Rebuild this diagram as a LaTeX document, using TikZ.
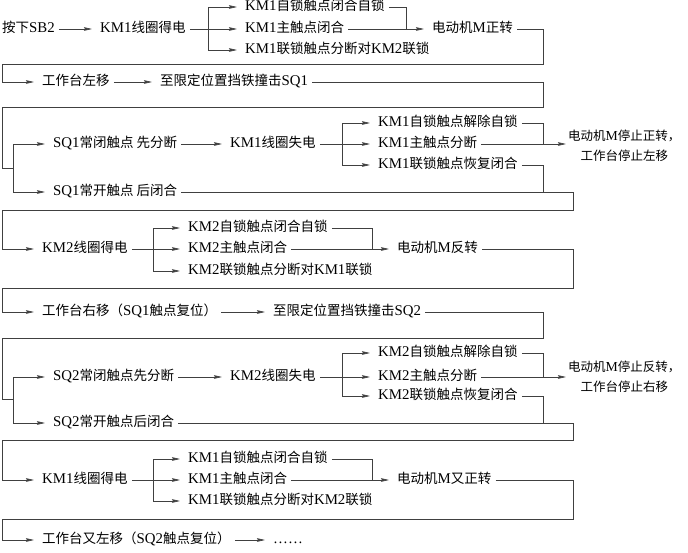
\documentclass[tikz,border=0pt]{standalone}
\usepackage{fontspec}
\setmainfont{Noto Sans CJK SC}
\newfontfamily\latinfont{Liberation Serif}[Scale=1.1]
\newcommand\en[1]{{\latinfont #1}}
\usepackage{tikz}
\usetikzlibrary{arrows.meta}
\tikzset{
  flow/.style={
    anchor=west, xshift=-4pt, inner xsep=4pt, inner ysep=1pt,
    text height=10pt, text depth=2.5pt,
    font=\fontsize{13.5}{16}\selectfont
  },
  result/.style={
    anchor=west, inner xsep=2pt, align=center,
    font=\fontsize{12.5}{20}\selectfont
  },
  wire/.style={draw=black!75, line width=0.7pt},
  arrow/.style={wire, -{Stealth[length=8pt,width=3.6pt,inset=1pt]}, shorten >=4pt}
}
\begin{document}
\begin{tikzpicture}[x=1pt, y=-1pt]
  \useasboundingbox (0,0) rectangle (688,552);

  % press SB2, forward run
  \node[flow] (sb2) at (2,29) {按下\en{SB2}};
  \node[flow] (km1on) at (100,29) {\en{KM1}线圈得电};
  \node[flow] (km1self) at (245,7) {\en{KM1}自锁触点闭合自锁};
  \node[flow] (km1main) at (245,29) {\en{KM1}主触点闭合};
  \node[flow] (km1lock) at (245,50) {\en{KM1}联锁触点分断对\en{KM2}联锁};
  \node[flow] (fwd) at (432,29) {电动机\en{M}正转};
  \coordinate (s1) at (208,29);
  \coordinate (j1) at (406,29);
  \coordinate (r1) at (543,64);
  \coordinate (l1) at (2,64);

  \draw[arrow] (sb2) -- (km1on);
  \draw[arrow] (km1on) -- (km1main);
  \draw[arrow] (s1) |- (km1self.west);
  \draw[arrow] (s1) |- (km1lock.west);
  \draw[wire] (km1self.east) -| (j1);
  \draw[arrow] (km1main) -- (fwd);

  \node[flow] (left1) at (42,82) {工作台左移};
  \node[flow] (hitsq1) at (160,82) {至限定位置挡铁撞击\en{SQ1}};
  \coordinate (r2) at (543,107);
  \coordinate (l2) at (2,107);
  \coordinate (s2) at (13,168);

  \draw[arrow] (fwd.east) -| (r1) -- (l1) |- (left1.west);
  \draw[arrow] (left1) -- (hitsq1);
  \draw[wire] (hitsq1.east) -| (r2) -- (l2) |- (s2);

  % SQ1 hit, stop
  \node[flow] (sq1nc) at (53,144) {\en{SQ1}常闭触点 先分断};
  \node[flow] (sq1no) at (53,192) {\en{SQ1}常开触点 后闭合};
  \node[flow] (km1off) at (230,144) {\en{KM1}线圈失电};
  \node[flow] (km1unself) at (378,123) {\en{KM1}自锁触点解除自锁};
  \node[flow] (km1open) at (378,144) {\en{KM1}主触点分断};
  \node[flow] (km1unlock) at (378,165) {\en{KM1}联锁触点恢复闭合};
  \node[result] (stop1) at (566,146) {电动机\en{M}停止正转，\\工作台停止左移};
  \coordinate (s3) at (342,144);
  \coordinate (j3a) at (543,144);
  \coordinate (j3b) at (543,192);
  \coordinate (r3) at (573,210);
  \coordinate (l3) at (2,210);

  \draw[arrow] (s2) |- (sq1nc.west);
  \draw[arrow] (s2) |- (sq1no.west);
  \draw[arrow] (sq1nc) -- (km1off);
  \draw[arrow] (km1off) -- (km1open);
  \draw[arrow] (s3) |- (km1unself.west);
  \draw[arrow] (s3) |- (km1unlock.west);
  \draw[wire] (km1unself.east) -| (j3a);
  \draw[arrow, shorten >=0pt] (km1open.east) -- (km1open.east -| stop1.west);
  \draw[wire] (km1unlock.east) -| (j3b);

  % reverse run
  \node[flow] (km2on) at (42,249) {\en{KM2}线圈得电};
  \node[flow] (km2self) at (188,228) {\en{KM2}自锁触点闭合自锁};
  \node[flow] (km2main) at (188,249) {\en{KM2}主触点闭合};
  \node[flow] (km2lock) at (188,271) {\en{KM2}联锁触点分断对\en{KM1}联锁};
  \node[flow] (rev) at (397,249) {电动机\en{M}反转};
  \coordinate (s4) at (153,249);
  \coordinate (j4) at (372,249);
  \coordinate (r4) at (573,288);
  \coordinate (l4) at (2,288);

  \draw[arrow] (sq1no.east) -| (r3) -- (l3) |- (km2on.west);
  \draw[arrow] (km2on) -- (km2main);
  \draw[arrow] (s4) |- (km2self.west);
  \draw[arrow] (s4) |- (km2lock.west);
  \draw[wire] (km2self.east) -| (j4);
  \draw[arrow] (km2main) -- (rev);

  \node[flow] (right1) at (42,312) {工作台右移（\en{SQ1}触点复位）};
  \node[flow] (hitsq2) at (273,312) {至限定位置挡铁撞击\en{SQ2}};
  \coordinate (r5) at (543,338);
  \coordinate (l5) at (2,338);
  \coordinate (s5) at (13,399);

  \draw[arrow] (rev.east) -| (r4) -- (l4) |- (right1.west);
  \draw[arrow] (right1) -- (hitsq2);
  \draw[wire] (hitsq2.east) -| (r5) -- (l5) |- (s5);

  % SQ2 hit, stop
  \node[flow] (sq2nc) at (53,377) {\en{SQ2}常闭触点先分断};
  \node[flow] (sq2no) at (53,423) {\en{SQ2}常开触点后闭合};
  \node[flow] (km2off) at (230,377) {\en{KM2}线圈失电};
  \node[flow] (km2unself) at (378,353) {\en{KM2}自锁触点解除自锁};
  \node[flow] (km2open) at (378,377) {\en{KM2}主触点分断};
  \node[flow] (km2unlock) at (378,396) {\en{KM2}联锁触点恢复闭合};
  \node[result] (stop2) at (566,377) {电动机\en{M}停止反转，\\工作台停止右移};
  \coordinate (s6) at (342,377);
  \coordinate (j6a) at (543,377);
  \coordinate (j6b) at (543,423);
  \coordinate (r6) at (573,440);
  \coordinate (l6) at (2,440);

  \draw[arrow] (s5) |- (sq2nc.west);
  \draw[arrow] (s5) |- (sq2no.west);
  \draw[arrow] (sq2nc) -- (km2off);
  \draw[arrow] (km2off) -- (km2open);
  \draw[arrow] (s6) |- (km2unself.west);
  \draw[arrow] (s6) |- (km2unlock.west);
  \draw[wire] (km2unself.east) -| (j6a);
  \draw[arrow, shorten >=0pt] (km2open.east) -- (km2open.east -| stop2.west);
  \draw[wire] (km2unlock.east) -| (j6b);

  % forward again
  \node[flow] (km1on2) at (42,480) {\en{KM1}线圈得电};
  \node[flow] (km1self2) at (188,459) {\en{KM1}自锁触点闭合自锁};
  \node[flow] (km1main2) at (188,480) {\en{KM1}主触点闭合};
  \node[flow] (km1lock2) at (188,501) {\en{KM1}联锁触点分断对\en{KM2}联锁};
  \node[flow] (fwd2) at (397,480) {电动机\en{M}又正转};
  \coordinate (s7) at (153,480);
  \coordinate (j7) at (372,480);
  \coordinate (r7) at (573,519);
  \coordinate (l7) at (2,519);

  \draw[arrow] (sq2no.east) -| (r6) -- (l6) |- (km1on2.west);
  \draw[arrow] (km1on2) -- (km1main2);
  \draw[arrow] (s7) |- (km1self2.west);
  \draw[arrow] (s7) |- (km1lock2.west);
  \draw[wire] (km1self2.east) -| (j7);
  \draw[arrow] (km1main2) -- (fwd2);

  \node[flow] (left2) at (42,540) {工作台又左移（\en{SQ2}触点复位）};
  \node[flow] (etc) at (273,540) {\en{……}};

  \draw[arrow] (fwd2.east) -| (r7) -- (l7) |- (left2.west);
  \draw[arrow] (left2) -- (etc);
\end{tikzpicture}
\end{document}
